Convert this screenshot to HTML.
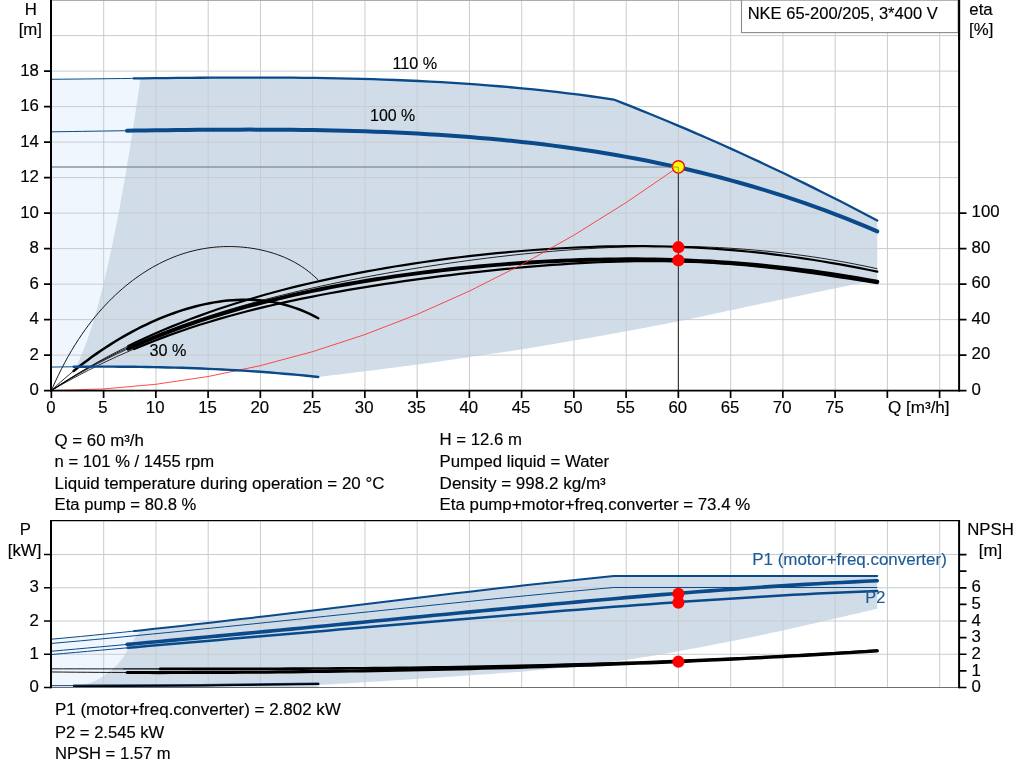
<!DOCTYPE html>
<html lang="en"><head><meta charset="utf-8"><title>NKE 65-200/205 pump curve</title>
<style>html,body{margin:0;padding:0;background:#fff;overflow:hidden}body{width:1024px;height:781px;position:relative}</style></head>
<body>
<svg width="1024" height="781" viewBox="0 0 1024 781" style="position:absolute;left:0;top:0">
<rect x="0" y="0" width="1024" height="781" fill="#ffffff"/>
<path d="M51.30,79.28 L62.78,79.18 L74.26,79.07 L85.74,78.96 L97.21,78.83 L108.69,78.70 L120.17,78.57 L131.65,78.44 L140.49,78.34 L140.49,77.96 L137.07,101.45 L133.66,124.02 L130.24,145.68 L126.83,166.42 L123.41,186.24 L120.00,205.14 L116.58,223.13 L113.16,240.20 L109.75,256.35 L106.33,271.58 L102.92,285.90 L99.50,299.29 L96.09,311.77 L92.67,323.34 L89.26,333.98 L85.84,343.71 L82.42,352.52 L79.01,360.41 L75.59,367.38 L75.59,366.78 L71.83,366.82 L64.99,366.90 L58.14,366.99 L51.30,367.09Z" fill="#eff6fe"/>
<path d="M75.59,367.38 L79.01,360.41 L82.42,352.52 L85.84,343.71 L89.26,333.98 L92.67,323.34 L96.09,311.77 L99.50,299.29 L102.92,285.90 L106.33,271.58 L109.75,256.35 L113.16,240.20 L116.58,223.13 L120.00,205.14 L123.41,186.24 L126.83,166.42 L130.24,145.68 L133.66,124.02 L137.07,101.45 L140.49,77.96 L140.49,78.34 L143.13,78.31 L154.61,78.18 L166.09,78.06 L177.56,77.95 L189.04,77.85 L200.52,77.76 L212.00,77.68 L223.48,77.62 L234.96,77.58 L246.44,77.56 L257.91,77.56 L269.39,77.58 L280.87,77.63 L292.35,77.71 L303.83,77.82 L315.31,77.96 L326.79,78.13 L338.26,78.34 L349.74,78.59 L361.22,78.88 L372.70,79.21 L384.18,79.59 L395.66,80.01 L407.14,80.48 L418.61,81.00 L430.09,81.58 L441.57,82.21 L453.05,82.89 L464.53,83.63 L476.01,84.44 L487.49,85.30 L498.96,86.23 L510.44,87.23 L521.92,88.30 L533.40,89.43 L544.88,90.64 L556.36,91.93 L567.84,93.29 L579.31,94.73 L590.79,96.25 L602.27,97.85 L613.75,99.54 L622.84,103.09 L631.92,106.68 L641.01,110.32 L650.09,114.01 L659.18,117.73 L668.27,121.50 L677.35,125.32 L686.44,129.18 L695.53,133.09 L704.61,137.03 L713.70,141.03 L722.78,145.07 L731.87,149.15 L740.96,153.27 L750.04,157.44 L759.13,161.66 L768.22,165.92 L777.30,170.22 L786.39,174.57 L795.47,178.96 L804.56,183.40 L813.65,187.88 L822.73,192.41 L831.82,196.98 L840.91,201.59 L849.99,206.25 L859.08,210.95 L868.16,215.70 L877.25,220.49 L877.25,279.50 L877.25,279.50 L872.49,280.50 L867.74,281.49 L863.00,282.49 L858.27,283.48 L853.54,284.47 L848.80,285.47 L844.05,286.46 L839.29,287.46 L834.51,288.46 L829.70,289.47 L824.87,290.48 L820.00,291.50 L815.16,292.51 L810.39,293.50 L805.66,294.48 L800.94,295.46 L796.21,296.45 L791.42,297.44 L786.56,298.45 L781.58,299.48 L776.47,300.55 L771.19,301.65 L765.71,302.80 L760.00,304.00 L754.03,305.27 L747.82,306.60 L741.41,307.98 L734.81,309.41 L728.08,310.87 L721.25,312.34 L714.35,313.83 L707.41,315.31 L700.47,316.79 L693.56,318.23 L686.73,319.64 L680.00,321.00 L673.25,322.34 L666.37,323.68 L659.39,325.02 L652.37,326.36 L645.35,327.68 L638.38,328.98 L631.49,330.26 L624.74,331.50 L618.17,332.70 L611.83,333.85 L605.76,334.96 L600.00,336.00 L594.49,336.99 L589.14,337.94 L583.96,338.85 L578.94,339.72 L574.11,340.55 L569.47,341.34 L565.02,342.09 L560.78,342.81 L556.75,343.48 L552.93,344.13 L549.35,344.73 L546.00,345.30 L543.07,345.80 L540.65,346.22 L538.66,346.57 L536.98,346.87 L535.51,347.13 L534.16,347.37 L532.80,347.61 L531.35,347.85 L529.70,348.12 L527.74,348.43 L525.38,348.80 L522.50,349.25 L519.14,349.76 L515.43,350.32 L511.41,350.93 L507.15,351.56 L502.68,352.22 L498.06,352.90 L493.34,353.60 L488.57,354.29 L483.80,354.99 L479.09,355.68 L474.47,356.35 L470.00,357.00 L465.62,357.64 L461.25,358.27 L456.88,358.91 L452.50,359.55 L448.12,360.18 L443.75,360.81 L439.38,361.44 L435.00,362.06 L430.62,362.68 L426.25,363.30 L421.88,363.90 L417.50,364.50 L413.11,365.09 L408.68,365.68 L404.24,366.26 L399.79,366.84 L395.33,367.42 L390.89,367.98 L386.47,368.55 L382.07,369.10 L377.72,369.65 L373.42,370.19 L369.17,370.72 L365.00,371.25 L360.90,371.76 L356.88,372.27 L352.91,372.76 L348.99,373.24 L345.11,373.72 L341.27,374.19 L337.44,374.65 L333.62,375.12 L329.80,375.59 L325.98,376.05 L322.13,376.52 L318.25,377.00 L318.25,376.96 L311.41,376.25 L304.56,375.56 L297.72,374.91 L290.87,374.28 L284.03,373.68 L277.18,373.11 L270.34,372.57 L263.49,372.05 L256.65,371.56 L249.80,371.10 L242.96,370.66 L236.11,370.25 L229.27,369.86 L222.42,369.50 L215.58,369.16 L208.73,368.85 L201.89,368.56 L195.04,368.29 L188.20,368.04 L181.35,367.82 L174.51,367.61 L167.66,367.43 L160.82,367.27 L153.97,367.13 L147.13,367.00 L140.28,366.90 L133.44,366.81 L126.59,366.75 L119.75,366.70 L112.90,366.67 L106.06,366.65 L99.21,366.66 L92.37,366.67 L85.52,366.71 L78.68,366.76 L75.59,366.78Z" fill="#d0dde9"/>
<path d="M51.50,639.18 L65.92,637.86 L80.33,636.49 L94.75,635.09 L109.17,633.64 L123.58,632.17 L138.00,630.65 L141.50,630.28 L141.50,629.80 L141.31,630.02 L141.13,630.23 L140.96,630.42 L140.80,630.60 L140.63,630.79 L140.46,630.98 L140.28,631.19 L140.09,631.41 L139.88,631.65 L139.65,631.93 L139.39,632.24 L139.10,632.60 L138.78,632.99 L138.43,633.40 L138.06,633.84 L137.67,634.30 L137.27,634.79 L136.84,635.30 L136.41,635.84 L135.96,636.40 L135.50,636.98 L135.04,637.60 L134.57,638.23 L134.10,638.90 L133.62,639.61 L133.11,640.37 L132.59,641.17 L132.05,642.00 L131.50,642.87 L130.95,643.74 L130.40,644.63 L129.85,645.52 L129.31,646.40 L128.79,647.26 L128.28,648.10 L127.80,648.90 L127.35,649.68 L126.92,650.44 L126.52,651.18 L126.13,651.92 L125.75,652.65 L125.38,653.38 L124.99,654.09 L124.60,654.81 L124.20,655.53 L123.76,656.25 L123.30,656.97 L122.80,657.70 L122.28,658.43 L121.75,659.15 L121.22,659.87 L120.67,660.59 L120.11,661.31 L119.52,662.02 L118.91,662.75 L118.27,663.48 L117.59,664.22 L116.87,664.96 L116.11,665.72 L115.30,666.50 L114.43,667.30 L113.49,668.14 L112.51,669.00 L111.47,669.88 L110.41,670.77 L109.31,671.66 L108.20,672.53 L107.08,673.40 L105.96,674.23 L104.85,675.03 L103.76,675.79 L102.70,676.50 L101.67,677.16 L100.65,677.79 L99.66,678.38 L98.67,678.95 L97.68,679.49 L96.68,680.01 L95.67,680.51 L94.64,680.99 L93.59,681.46 L92.50,681.91 L91.37,682.36 L90.20,682.80 L88.97,683.22 L87.70,683.62 L86.39,684.00 L85.05,684.36 L83.68,684.70 L82.29,685.03 L80.88,685.36 L79.47,685.68 L78.06,686.00 L76.66,686.32 L75.27,686.66 L73.90,687.00 L51.50,687.00Z" fill="#eff6fe"/>
<path d="M73.90,687.00 L75.27,686.66 L76.66,686.32 L78.06,686.00 L79.47,685.68 L80.88,685.36 L82.29,685.03 L83.68,684.70 L85.05,684.36 L86.39,684.00 L87.70,683.62 L88.97,683.22 L90.20,682.80 L91.37,682.36 L92.50,681.91 L93.59,681.46 L94.64,680.99 L95.67,680.51 L96.68,680.01 L97.68,679.49 L98.67,678.95 L99.66,678.38 L100.65,677.79 L101.67,677.16 L102.70,676.50 L103.76,675.79 L104.85,675.03 L105.96,674.23 L107.08,673.40 L108.20,672.53 L109.31,671.66 L110.41,670.77 L111.47,669.88 L112.51,669.00 L113.49,668.14 L114.43,667.30 L115.30,666.50 L116.11,665.72 L116.87,664.96 L117.59,664.22 L118.27,663.48 L118.91,662.75 L119.52,662.02 L120.11,661.31 L120.67,660.59 L121.22,659.87 L121.75,659.15 L122.28,658.43 L122.80,657.70 L123.30,656.97 L123.76,656.25 L124.20,655.53 L124.60,654.81 L124.99,654.09 L125.38,653.38 L125.75,652.65 L126.13,651.92 L126.52,651.18 L126.92,650.44 L127.35,649.68 L127.80,648.90 L128.28,648.10 L128.79,647.26 L129.31,646.40 L129.85,645.52 L130.40,644.63 L130.95,643.74 L131.50,642.87 L132.05,642.00 L132.59,641.17 L133.11,640.37 L133.62,639.61 L134.10,638.90 L134.57,638.23 L135.04,637.60 L135.50,636.98 L135.96,636.40 L136.41,635.84 L136.84,635.30 L137.27,634.79 L137.67,634.30 L138.06,633.84 L138.43,633.40 L138.78,632.99 L139.10,632.60 L139.39,632.24 L139.65,631.93 L139.88,631.65 L140.09,631.41 L140.28,631.19 L140.46,630.98 L140.63,630.79 L140.80,630.60 L140.96,630.42 L141.13,630.23 L141.31,630.02 L141.50,629.80 L141.50,630.28 L152.42,629.11 L166.83,627.54 L181.25,625.95 L195.67,624.33 L210.08,622.68 L224.50,621.02 L238.92,619.34 L253.33,617.64 L267.75,615.92 L282.17,614.20 L296.58,612.47 L311.00,610.72 L325.42,608.98 L339.83,607.22 L354.25,605.47 L368.67,603.72 L383.08,601.97 L397.50,600.23 L411.92,598.49 L426.33,596.76 L440.75,595.04 L455.17,593.34 L469.58,591.65 L484.00,589.98 L498.42,588.32 L512.83,586.69 L527.25,585.08 L541.67,583.50 L556.08,581.95 L570.50,580.43 L584.92,578.93 L599.33,577.48 L613.75,576.06 L877.25,576.00 L877.25,608.75 L872.50,609.85 L867.79,610.95 L863.10,612.04 L858.42,613.13 L853.74,614.22 L849.05,615.31 L844.33,616.41 L839.58,617.51 L834.79,618.62 L829.93,619.73 L825.01,620.86 L820.00,622.00 L814.95,623.15 L809.88,624.31 L804.80,625.47 L799.68,626.65 L794.51,627.83 L789.28,629.02 L783.98,630.21 L778.60,631.41 L773.12,632.61 L767.54,633.82 L761.84,635.03 L756.00,636.25 L749.92,637.49 L743.55,638.78 L736.96,640.09 L730.19,641.43 L723.34,642.76 L716.45,644.09 L709.61,645.41 L702.86,646.69 L696.29,647.92 L689.95,649.10 L683.92,650.22 L678.25,651.25 L672.99,652.20 L668.09,653.08 L663.49,653.89 L659.12,654.66 L654.92,655.38 L650.83,656.06 L646.78,656.72 L642.71,657.37 L638.56,658.01 L634.27,658.66 L629.77,659.32 L625.00,660.00 L619.96,660.70 L614.72,661.41 L609.32,662.13 L603.80,662.84 L598.19,663.55 L592.55,664.25 L586.90,664.93 L581.29,665.60 L575.75,666.24 L570.33,666.86 L565.07,667.45 L560.00,668.00 L555.28,668.50 L550.97,668.96 L546.95,669.37 L543.11,669.75 L539.35,670.11 L535.56,670.45 L531.63,670.79 L527.44,671.14 L522.90,671.51 L517.88,671.90 L512.29,672.33 L506.00,672.80 L498.91,673.32 L491.06,673.89 L482.58,674.48 L473.60,675.10 L464.27,675.74 L454.70,676.39 L445.05,677.03 L435.43,677.67 L425.98,678.30 L416.84,678.90 L408.13,679.47 L400.00,680.00 L392.36,680.49 L385.03,680.96 L377.95,681.40 L371.08,681.83 L364.39,682.24 L357.83,682.64 L351.35,683.03 L344.92,683.41 L338.48,683.80 L332.01,684.19 L325.44,684.59 L318.75,685.00 L318.40,686.90Z" fill="#d0dde9"/>
<path d="M103.7,0V390 M103.7,520.6V687 M155.95,0V390 M155.95,520.6V687 M208.2,0V390 M208.2,520.6V687 M260.45,0V390 M260.45,520.6V687 M312.7,0V390 M312.7,520.6V687 M364.95,0V390 M364.95,520.6V687 M417.2,0V390 M417.2,520.6V687 M469.45,0V390 M469.45,520.6V687 M521.7,0V390 M521.7,520.6V687 M573.95,0V390 M573.95,520.6V687 M626.2,0V390 M626.2,520.6V687 M678.45,0V390 M678.45,520.6V687 M730.7,0V390 M730.7,520.6V687 M782.95,0V390 M782.95,520.6V687 M835.2,0V390 M835.2,520.6V687 M887.45,0V390 M887.45,520.6V687 M939.7,0V390 M939.7,520.6V687 M52,355.1H958 M52,319.6H958 M52,284.1H958 M52,248.6H958 M52,213.1H958 M52,177.6H958 M52,142.1H958 M52,106.6H958 M52,71.1H958 M52,35.6H958 M52,0.1H958 M52,654.25H958 M52,621.0H958 M52,587.75H958 M52,554.5H958" stroke="#c9ccce" stroke-width="1" fill="none"/>
<path d="M52,0.25H958" stroke="#9a9a9a" stroke-width="1" fill="none"/>
<path d="M52,167.00H678.4" stroke="#8a96a2" stroke-width="1.3" fill="none"/>
<path d="M678.4,166.85V390" stroke="#3c3c3c" stroke-width="1.2" fill="none"/>
<path d="M51.35,390.50 L54.73,382.90 L58.11,375.71 L61.49,368.89 L64.86,362.42 L68.24,356.28 L71.62,350.44 L75.00,344.89 L78.38,339.60 L81.76,334.55 L85.13,329.74 L88.51,325.15 L91.89,320.76 L95.27,316.57 L98.65,312.55 L102.03,308.71 L105.41,305.03 L108.78,301.50 L112.16,298.12 L115.54,294.89 L118.92,291.78 L122.30,288.80 L125.68,285.95 L129.06,283.22 L132.43,280.61 L135.81,278.11 L139.19,275.71 L142.57,273.43 L145.95,271.25 L149.33,269.17 L152.70,267.20 L156.08,265.32 L159.46,263.54 L162.84,261.86 L166.22,260.27 L169.60,258.77 L172.98,257.37 L176.35,256.06 L179.73,254.84 L183.11,253.70 L186.49,252.66 L189.87,251.70 L193.25,250.82 L196.62,250.04 L200.00,249.33 L203.38,248.70 L206.76,248.16 L210.14,247.70 L213.52,247.31 L216.90,247.01 L220.27,246.78 L223.65,246.63 L227.03,246.55 L230.41,246.55 L233.79,246.62 L237.17,246.76 L240.54,246.99 L243.92,247.28 L247.30,247.65 L250.68,248.10 L254.06,248.63 L257.44,249.23 L260.82,249.92 L264.19,250.69 L267.57,251.55 L270.95,252.50 L274.33,253.55 L277.71,254.71 L281.09,255.97 L284.47,257.35 L287.84,258.86 L291.22,260.50 L294.60,262.28 L297.98,264.22 L301.36,266.34 L304.74,268.63 L308.11,271.13 L311.49,273.85 L314.87,276.80 L318.25,280.02" fill="none" stroke="#000" stroke-width="0.9" stroke-linecap="butt" stroke-linejoin="round" />
<path d="M51.35,390.50 L55.87,386.30 L60.40,382.23 L64.92,378.27 L69.44,374.43 L73.70,370.92" fill="none" stroke="#000" stroke-width="0.8" stroke-linecap="butt" stroke-linejoin="round" />
<path d="M73.70,370.92 L73.97,370.69 L78.49,367.07 L83.02,363.56 L87.54,360.15 L92.06,356.84 L96.59,353.63 L101.11,350.52 L105.63,347.51 L110.16,344.59 L114.68,341.77 L119.21,339.03 L123.73,336.39 L128.25,333.84 L132.78,331.38 L137.30,329.01 L141.82,326.73 L146.35,324.53 L150.87,322.43 L155.40,320.41 L159.92,318.47 L164.44,316.63 L168.97,314.87 L173.49,313.21 L178.01,311.63 L182.54,310.14 L187.06,308.75 L191.59,307.45 L196.11,306.24 L200.63,305.13 L205.16,304.11 L209.68,303.20 L214.20,302.38 L218.73,301.67 L223.25,301.07 L227.78,300.57 L232.30,300.18 L236.82,299.90 L241.35,299.74 L245.87,299.70 L250.39,299.78 L254.92,299.99 L259.44,300.32 L263.97,300.79 L268.49,301.40 L273.01,302.14 L277.54,303.03 L282.06,304.06 L286.58,305.25 L291.11,306.60 L295.63,308.10 L300.16,309.78 L304.68,311.63 L309.20,313.65 L313.73,315.85 L318.25,318.25" fill="none" stroke="#000" stroke-width="2.5" stroke-linecap="round" stroke-linejoin="round" />
<path d="M51.35,390.50 L60.63,384.42 L69.91,378.60 L79.19,373.05 L88.47,367.73 L97.75,362.65 L107.03,357.78 L116.31,353.13 L125.59,348.67 L134.87,344.40 L144.15,340.31 L153.43,336.38 L162.71,332.62 L171.99,329.01 L181.27,325.54 L190.56,322.20 L199.84,319.00 L209.12,315.91 L218.40,312.94 L227.68,310.07 L236.96,307.31 L246.24,304.65 L255.52,302.07 L264.80,299.59 L274.08,297.18 L283.36,294.85 L292.64,292.60 L301.92,290.42 L311.20,288.30 L320.48,286.25 L329.76,284.25 L339.04,282.32 L348.32,280.44 L357.60,278.61 L366.88,276.84 L376.16,275.12 L385.44,273.44 L394.72,271.82 L404.00,270.24 L413.28,268.70 L422.56,267.22 L431.84,265.77 L441.12,264.38 L450.40,263.02 L459.68,261.72 L468.97,260.46 L478.25,259.24 L487.53,258.07 L496.81,256.95 L506.09,255.88 L515.37,254.85 L524.65,253.88 L533.93,252.96 L543.21,252.09 L552.49,251.27 L561.77,250.51 L571.05,249.81 L580.33,249.16 L589.61,248.58 L598.89,248.05 L608.17,247.59 L617.45,247.20 L626.73,246.87 L636.01,246.61 L645.29,246.42 L654.57,246.30 L663.85,246.26 L673.13,246.29 L682.41,246.40 L691.69,246.58 L700.97,246.85 L710.25,247.20 L719.53,247.63 L728.81,248.15 L738.09,248.75 L747.38,249.44 L756.66,250.22 L765.94,251.09 L775.22,252.04 L784.50,253.09 L793.78,254.24 L803.06,255.47 L812.34,256.80 L821.62,258.22 L830.90,259.73 L840.18,261.34 L849.46,263.04 L858.74,264.84 L868.02,266.72 L877.30,268.70" fill="none" stroke="#000" stroke-width="0.85" stroke-linecap="butt" stroke-linejoin="round" />
<path d="M51.35,390.50 L60.63,384.37 L69.91,378.46 L79.19,372.77 L88.47,367.29 L97.75,362.02 L107.03,356.95 L116.31,352.06 L125.59,347.36 L128.30,346.04" fill="none" stroke="#000" stroke-width="0.8" stroke-linecap="butt" stroke-linejoin="round" />
<path d="M128.30,346.04 L134.87,342.83 L144.15,338.48 L153.43,334.29 L162.71,330.26 L171.99,326.38 L181.27,322.65 L190.56,319.06 L199.84,315.61 L209.12,312.28 L218.40,309.08 L227.68,306.00 L236.96,303.04 L246.24,300.18 L255.52,297.44 L264.80,294.79 L274.08,292.24 L283.36,289.79 L292.64,287.43 L301.92,285.15 L311.20,282.96 L320.48,280.85 L329.76,278.81 L339.04,276.85 L348.32,274.97 L357.60,273.15 L366.88,271.40 L376.16,269.71 L385.44,268.09 L394.72,266.54 L404.00,265.04 L413.28,263.60 L422.56,262.22 L431.84,260.90 L441.12,259.63 L450.40,258.42 L459.68,257.27 L468.97,256.17 L478.25,255.13 L487.53,254.14 L496.81,253.20 L506.09,252.32 L515.37,251.50 L524.65,250.73 L533.93,250.02 L543.21,249.37 L552.49,248.77 L561.77,248.23 L571.05,247.75 L580.33,247.34 L589.61,246.98 L598.89,246.69 L608.17,246.46 L617.45,246.30 L626.73,246.20 L636.01,246.17 L645.29,246.21 L654.57,246.31 L663.85,246.49 L673.13,246.75 L682.41,247.07 L691.69,247.47 L700.97,247.94 L710.25,248.50 L719.53,249.12 L728.81,249.83 L738.09,250.62 L747.38,251.48 L756.66,252.42 L765.94,253.44 L775.22,254.55 L784.50,255.73 L793.78,256.99 L803.06,258.32 L812.34,259.74 L821.62,261.23 L830.90,262.80 L840.18,264.44 L849.46,266.15 L858.74,267.93 L868.02,269.78 L877.30,271.69" fill="none" stroke="#000" stroke-width="2.2" stroke-linecap="round" stroke-linejoin="round" />
<path d="M51.35,390.50 L60.63,385.18 L69.91,380.03 L79.19,375.06 L88.47,370.25 L97.75,365.61 L107.03,361.14 L116.31,356.83 L125.59,352.69 L134.00,349.07" fill="none" stroke="#000" stroke-width="0.8" stroke-linecap="butt" stroke-linejoin="round" />
<path d="M134.00,349.07 L134.87,348.69 L144.15,344.86 L153.43,341.17 L162.71,337.63 L171.99,334.22 L181.27,330.96 L190.56,327.82 L199.84,324.81 L209.12,321.93 L218.40,319.16 L227.68,316.50 L236.96,313.95 L246.24,311.50 L255.52,309.14 L264.80,306.88 L274.08,304.71 L283.36,302.62 L292.64,300.61 L301.92,298.67 L311.20,296.80 L320.48,295.00 L329.76,293.26 L339.04,291.57 L348.32,289.95 L357.60,288.38 L366.88,286.85 L376.16,285.38 L385.44,283.94 L394.72,282.56 L404.00,281.21 L413.28,279.90 L422.56,278.64 L431.84,277.41 L441.12,276.21 L450.40,275.06 L459.68,273.94 L468.97,272.86 L478.25,271.81 L487.53,270.81 L496.81,269.84 L506.09,268.92 L515.37,268.03 L524.65,267.19 L533.93,266.39 L543.21,265.64 L552.49,264.94 L561.77,264.29 L571.05,263.69 L580.33,263.15 L589.61,262.67 L598.89,262.24 L608.17,261.88 L617.45,261.59 L626.73,261.36 L636.01,261.21 L645.29,261.12 L654.57,261.12 L663.85,261.18 L673.13,261.33 L682.41,261.56 L691.69,261.87 L700.97,262.26 L710.25,262.74 L719.53,263.29 L728.81,263.94 L738.09,264.66 L747.38,265.47 L756.66,266.36 L765.94,267.32 L775.22,268.36 L784.50,269.47 L793.78,270.65 L803.06,271.89 L812.34,273.19 L821.62,274.53 L830.90,275.92 L840.18,277.34 L849.46,278.77 L858.74,280.22 L868.02,281.67 L877.30,283.10" fill="none" stroke="#000" stroke-width="2.2" stroke-linecap="round" stroke-linejoin="round" />
<path d="M51.35,390.50 L60.63,384.65 L69.91,379.03 L79.19,373.66 L88.47,368.50 L97.75,363.56 L107.03,358.82 L116.31,354.27 L125.59,349.91 L128.30,348.69" fill="none" stroke="#000" stroke-width="0.8" stroke-linecap="butt" stroke-linejoin="round" />
<path d="M128.30,348.69 L134.87,345.72 L144.15,341.71 L153.43,337.85 L162.71,334.15 L171.99,330.60 L181.27,327.19 L190.56,323.91 L199.84,320.76 L209.12,317.73 L218.40,314.82 L227.68,312.02 L236.96,309.33 L246.24,306.74 L255.52,304.25 L264.80,301.85 L274.08,299.54 L283.36,297.33 L292.64,295.19 L301.92,293.13 L311.20,291.15 L320.48,289.25 L329.76,287.42 L339.04,285.66 L348.32,283.96 L357.60,282.33 L366.88,280.77 L376.16,279.26 L385.44,277.82 L394.72,276.43 L404.00,275.11 L413.28,273.84 L422.56,272.62 L431.84,271.46 L441.12,270.35 L450.40,269.30 L459.68,268.30 L468.97,267.36 L478.25,266.46 L487.53,265.62 L496.81,264.83 L506.09,264.09 L515.37,263.41 L524.65,262.77 L533.93,262.19 L543.21,261.66 L552.49,261.18 L561.77,260.76 L571.05,260.39 L580.33,260.07 L589.61,259.81 L598.89,259.60 L608.17,259.44 L617.45,259.35 L626.73,259.30 L636.01,259.32 L645.29,259.39 L654.57,259.52 L663.85,259.72 L673.13,259.96 L682.41,260.27 L691.69,260.65 L700.97,261.08 L710.25,261.57 L719.53,262.13 L728.81,262.75 L738.09,263.43 L747.38,264.18 L756.66,265.00 L765.94,265.88 L775.22,266.83 L784.50,267.84 L793.78,268.92 L803.06,270.07 L812.34,271.29 L821.62,272.58 L830.90,273.94 L840.18,275.37 L849.46,276.87 L858.74,278.43 L868.02,280.08 L877.30,281.79" fill="none" stroke="#000" stroke-width="3.9" stroke-linecap="round" stroke-linejoin="round" />
<path d="M51.35,390.50 L103.60,388.95 L155.85,384.29 L208.10,376.52 L260.35,365.65 L312.60,351.67 L364.85,334.59 L417.10,314.40 L469.35,291.10 L521.60,264.70 L573.85,235.19 L626.10,202.57 L678.35,166.85" fill="none" stroke="#ff2d2d" stroke-width="0.85" stroke-linecap="butt" stroke-linejoin="round" />
<path d="M51.30,367.09 L58.14,366.99 L64.99,366.90 L71.83,366.82 L73.75,366.80" fill="none" stroke="#0a4a8a" stroke-width="1.0" stroke-linecap="butt" stroke-linejoin="round" />
<path d="M73.75,366.80 L78.68,366.76 L85.52,366.71 L92.37,366.67 L99.21,366.66 L106.06,366.65 L112.90,366.67 L119.75,366.70 L126.59,366.75 L133.44,366.81 L140.28,366.90 L147.13,367.00 L153.97,367.13 L160.82,367.27 L167.66,367.43 L174.51,367.61 L181.35,367.82 L188.20,368.04 L195.04,368.29 L201.89,368.56 L208.73,368.85 L215.58,369.16 L222.42,369.50 L229.27,369.86 L236.11,370.25 L242.96,370.66 L249.80,371.10 L256.65,371.56 L263.49,372.05 L270.34,372.57 L277.18,373.11 L284.03,373.68 L290.87,374.28 L297.72,374.91 L304.56,375.56 L311.41,376.25 L318.25,376.96" fill="none" stroke="#0a4a8a" stroke-width="2.4" stroke-linecap="round" stroke-linejoin="round" />
<path d="M51.30,79.28 L62.78,79.18 L74.26,79.07 L85.74,78.96 L97.21,78.83 L108.69,78.70 L120.17,78.57 L131.65,78.44 L133.75,78.42" fill="none" stroke="#0a4a8a" stroke-width="1.0" stroke-linecap="butt" stroke-linejoin="round" />
<path d="M133.75,78.42 L143.13,78.31 L154.61,78.18 L166.09,78.06 L177.56,77.95 L189.04,77.85 L200.52,77.76 L212.00,77.68 L223.48,77.62 L234.96,77.58 L246.44,77.56 L257.91,77.56 L269.39,77.58 L280.87,77.63 L292.35,77.71 L303.83,77.82 L315.31,77.96 L326.79,78.13 L338.26,78.34 L349.74,78.59 L361.22,78.88 L372.70,79.21 L384.18,79.59 L395.66,80.01 L407.14,80.48 L418.61,81.00 L430.09,81.58 L441.57,82.21 L453.05,82.89 L464.53,83.63 L476.01,84.44 L487.49,85.30 L498.96,86.23 L510.44,87.23 L521.92,88.30 L533.40,89.43 L544.88,90.64 L556.36,91.93 L567.84,93.29 L579.31,94.73 L590.79,96.25 L602.27,97.85 L613.75,99.54 L622.84,103.09 L631.92,106.68 L641.01,110.32 L650.09,114.01 L659.18,117.73 L668.27,121.50 L677.35,125.32 L686.44,129.18 L695.53,133.09 L704.61,137.03 L713.70,141.03 L722.78,145.07 L731.87,149.15 L740.96,153.27 L750.04,157.44 L759.13,161.66 L768.22,165.92 L777.30,170.22 L786.39,174.57 L795.47,178.96 L804.56,183.40 L813.65,187.88 L822.73,192.41 L831.82,196.98 L840.91,201.59 L849.99,206.25 L859.08,210.95 L868.16,215.70 L877.25,220.49" fill="none" stroke="#0a4a8a" stroke-width="2.3" stroke-linecap="round" stroke-linejoin="round" />
<path d="M51.30,131.82 L61.76,131.67 L72.21,131.52 L82.67,131.36 L93.12,131.20 L103.58,131.04 L114.03,130.88 L124.49,130.73 L127.00,130.69" fill="none" stroke="#0a4a8a" stroke-width="1.0" stroke-linecap="butt" stroke-linejoin="round" />
<path d="M127.00,130.69 L134.94,130.58 L145.40,130.43 L155.85,130.30 L166.31,130.17 L176.76,130.05 L187.22,129.94 L197.67,129.85 L208.13,129.77 L218.58,129.70 L229.04,129.66 L239.49,129.63 L249.95,129.62 L260.40,129.64 L270.86,129.68 L281.31,129.74 L291.77,129.83 L302.22,129.95 L312.68,130.10 L323.13,130.28 L333.59,130.49 L344.04,130.74 L354.50,131.03 L364.95,131.35 L375.41,131.71 L385.86,132.11 L396.32,132.56 L406.77,133.05 L417.23,133.59 L427.68,134.18 L438.14,134.81 L448.59,135.50 L459.05,136.24 L469.50,137.04 L479.96,137.89 L490.41,138.81 L500.87,139.78 L511.32,140.81 L521.78,141.91 L532.23,143.08 L542.69,144.31 L553.14,145.62 L563.60,146.99 L574.05,148.44 L584.51,149.97 L594.96,151.57 L605.42,153.25 L615.87,155.01 L626.33,156.86 L636.78,158.79 L647.24,160.81 L657.69,162.92 L668.15,165.11 L678.60,167.41 L689.06,169.79 L699.51,172.28 L709.97,174.86 L720.42,177.54 L730.88,180.33 L741.33,183.22 L751.79,186.22 L762.24,189.33 L772.70,192.56 L783.15,195.89 L793.61,199.34 L804.06,202.91 L814.52,206.60 L824.97,210.41 L835.43,214.35 L845.88,218.42 L856.34,222.61 L866.79,226.93 L877.25,231.39" fill="none" stroke="#0a4a8a" stroke-width="4.0" stroke-linecap="round" stroke-linejoin="round" />
<path d="M51.50,639.18 L65.92,637.86 L80.33,636.49 L94.75,635.09 L109.17,633.64 L123.58,632.17 L134.10,631.06" fill="none" stroke="#0a4a8a" stroke-width="1.0" stroke-linecap="butt" stroke-linejoin="round" />
<path d="M134.10,631.06 L138.00,630.65 L152.42,629.11 L166.83,627.54 L181.25,625.95 L195.67,624.33 L210.08,622.68 L224.50,621.02 L238.92,619.34 L253.33,617.64 L267.75,615.92 L282.17,614.20 L296.58,612.47 L311.00,610.72 L325.42,608.98 L339.83,607.22 L354.25,605.47 L368.67,603.72 L383.08,601.97 L397.50,600.23 L411.92,598.49 L426.33,596.76 L440.75,595.04 L455.17,593.34 L469.58,591.65 L484.00,589.98 L498.42,588.32 L512.83,586.69 L527.25,585.08 L541.67,583.50 L556.08,581.95 L570.50,580.43 L584.92,578.93 L599.33,577.48 L613.75,576.06 L877.25,576.00" fill="none" stroke="#0a4a8a" stroke-width="2.0" stroke-linecap="round" stroke-linejoin="round" />
<path d="M51.50,643.45 L65.92,642.17 L80.33,640.86 L94.75,639.53 L109.17,638.18 L123.58,636.82 L138.00,635.43 L152.42,634.03 L166.83,632.61 L181.25,631.18 L195.67,629.74 L210.08,628.28 L224.50,626.81 L238.92,625.33 L253.33,623.85 L267.75,622.36 L282.17,620.86 L296.58,619.36 L311.00,617.85 L325.42,616.34 L339.83,614.83 L354.25,613.32 L368.67,611.81 L383.08,610.31 L397.50,608.80 L411.92,607.30 L426.33,605.81 L440.75,604.32 L455.17,602.85 L469.58,601.38 L484.00,599.92 L498.42,598.48 L512.83,597.04 L527.25,595.62 L541.67,594.22 L556.08,592.83 L570.50,591.46 L584.92,590.11 L599.33,588.78 L613.75,587.47 L877.25,587.50" fill="none" stroke="#0a4a8a" stroke-width="1.0" stroke-linecap="butt" stroke-linejoin="round" />
<path d="M51.50,654.57 L63.47,653.49 L75.43,652.43 L87.40,651.37 L99.37,650.31 L111.34,649.26 L123.30,648.21 L127.80,647.81" fill="none" stroke="#0a4a8a" stroke-width="1.0" stroke-linecap="butt" stroke-linejoin="round" />
<path d="M127.80,647.81 L135.27,647.16 L147.24,646.12 L159.21,645.08 L171.17,644.04 L183.14,643.00 L195.11,641.97 L207.08,640.93 L219.04,639.90 L231.01,638.87 L242.98,637.84 L254.95,636.81 L266.91,635.78 L278.88,634.75 L290.85,633.72 L302.82,632.70 L314.78,631.67 L326.75,630.64 L338.72,629.62 L350.68,628.60 L362.65,627.57 L374.62,626.55 L386.59,625.53 L398.55,624.51 L410.52,623.49 L422.49,622.48 L434.46,621.47 L446.42,620.46 L458.39,619.45 L470.36,618.45 L482.33,617.45 L494.29,616.45 L506.26,615.46 L518.23,614.48 L530.20,613.50 L542.16,612.53 L554.13,611.56 L566.10,610.60 L578.07,609.65 L590.03,608.71 L602.00,607.78 L613.97,606.86 L625.93,605.95 L637.90,605.05 L649.87,604.16 L661.84,603.29 L673.80,602.43 L685.77,601.59 L697.74,600.76 L709.71,599.95 L721.67,599.16 L733.64,598.38 L745.61,597.63 L757.58,596.90 L769.54,596.19 L781.51,595.50 L793.48,594.84 L805.45,594.21 L817.41,593.60 L829.38,593.01 L841.35,592.46 L853.32,591.94 L865.28,591.45 L877.25,590.99" fill="none" stroke="#0a4a8a" stroke-width="2.5" stroke-linecap="round" stroke-linejoin="round" />
<path d="M51.50,651.25 L63.47,650.18 L75.43,649.10 L87.40,648.02 L99.37,646.94 L111.34,645.85 L123.30,644.77 L127.20,644.41" fill="none" stroke="#0a4a8a" stroke-width="1.0" stroke-linecap="butt" stroke-linejoin="round" />
<path d="M127.20,644.41 L135.27,643.67 L147.24,642.57 L159.21,641.47 L171.17,640.37 L183.14,639.26 L195.11,638.15 L207.08,637.03 L219.04,635.91 L231.01,634.79 L242.98,633.66 L254.95,632.53 L266.91,631.39 L278.88,630.25 L290.85,629.11 L302.82,627.97 L314.78,626.82 L326.75,625.68 L338.72,624.53 L350.68,623.38 L362.65,622.22 L374.62,621.07 L386.59,619.92 L398.55,618.77 L410.52,617.62 L422.49,616.46 L434.46,615.32 L446.42,614.17 L458.39,613.02 L470.36,611.88 L482.33,610.75 L494.29,609.61 L506.26,608.49 L518.23,607.37 L530.20,606.25 L542.16,605.14 L554.13,604.04 L566.10,602.95 L578.07,601.87 L590.03,600.80 L602.00,599.74 L613.97,598.70 L625.93,597.66 L637.90,596.64 L649.87,595.64 L661.84,594.65 L673.80,593.67 L685.77,592.72 L697.74,591.78 L709.71,590.87 L721.67,589.97 L733.64,589.10 L745.61,588.25 L757.58,587.43 L769.54,586.63 L781.51,585.86 L793.48,585.11 L805.45,584.40 L817.41,583.71 L829.38,583.06 L841.35,582.44 L853.32,581.86 L865.28,581.31 L877.25,580.80" fill="none" stroke="#0a4a8a" stroke-width="3.6" stroke-linecap="round" stroke-linejoin="round" />
<path d="M51.50,668.83 L63.47,668.83 L75.43,668.84 L87.40,668.85 L99.37,668.86 L111.34,668.87 L122.80,668.87" fill="none" stroke="#000" stroke-width="0.9" stroke-linecap="butt" stroke-linejoin="round" />
<path d="M122.80,668.87 L123.30,668.87 L135.27,668.88 L147.24,668.89 L159.21,668.89 L160.00,668.89" fill="none" stroke="#000" stroke-width="1.4" stroke-linecap="butt" stroke-linejoin="round" />
<path d="M160.00,668.89 L171.17,668.89 L183.14,668.89 L195.11,668.89 L207.08,668.88 L219.04,668.86 L231.01,668.84 L242.98,668.82 L254.95,668.79 L266.91,668.75 L278.88,668.71 L290.85,668.66 L302.82,668.60 L314.78,668.54 L326.75,668.46 L338.72,668.38 L350.68,668.29 L362.65,668.19 L374.62,668.08 L386.59,667.96 L398.55,667.82 L410.52,667.68 L422.49,667.53 L434.46,667.36 L446.42,667.18 L458.39,666.99 L470.36,666.79 L482.33,666.57 L494.29,666.34 L506.26,666.10 L518.23,665.84 L530.20,665.57 L542.16,665.28 L554.13,664.98 L566.10,664.67 L578.07,664.34 L590.03,663.99 L602.00,663.63 L613.97,663.25 L625.93,662.86 L637.90,662.45 L649.87,662.02 L661.84,661.57 L673.80,661.11 L685.77,660.63 L697.74,660.14 L709.71,659.62 L721.67,659.09 L733.64,658.54 L745.61,657.97 L757.58,657.38 L769.54,656.78 L781.51,656.15 L793.48,655.51 L805.45,654.85 L817.41,654.17 L829.38,653.47 L841.35,652.75 L853.32,652.01 L865.28,651.25 L877.25,650.47" fill="none" stroke="#000" stroke-width="2.6" stroke-linecap="round" stroke-linejoin="round" />
<path d="M51.50,671.96 L63.47,672.08 L75.43,672.19 L87.40,672.28 L99.37,672.36 L111.34,672.42 L123.30,672.47 L127.20,672.48" fill="none" stroke="#000" stroke-width="0.9" stroke-linecap="butt" stroke-linejoin="round" />
<path d="M127.20,672.48 L135.27,672.50 L147.24,672.52 L159.21,672.53 L171.17,672.52 L183.14,672.50 L195.11,672.47 L207.08,672.43 L219.04,672.37 L231.01,672.30 L242.98,672.22 L254.95,672.13 L266.91,672.03 L278.88,671.91 L290.85,671.79 L302.82,671.65 L314.78,671.50 L326.75,671.34 L338.72,671.17 L350.68,670.99 L362.65,670.80 L374.62,670.59 L386.59,670.38 L398.55,670.15 L410.52,669.92 L422.49,669.67 L434.46,669.41 L446.42,669.14 L458.39,668.86 L470.36,668.57 L482.33,668.27 L494.29,667.96 L506.26,667.63 L518.23,667.30 L530.20,666.95 L542.16,666.59 L554.13,666.22 L566.10,665.84 L578.07,665.44 L590.03,665.03 L602.00,664.61 L613.97,664.18 L625.93,663.73 L637.90,663.27 L649.87,662.80 L661.84,662.31 L673.80,661.81 L685.77,661.30 L697.74,660.77 L709.71,660.23 L721.67,659.67 L733.64,659.09 L745.61,658.50 L757.58,657.89 L769.54,657.27 L781.51,656.63 L793.48,655.97 L805.45,655.29 L817.41,654.60 L829.38,653.89 L841.35,653.15 L853.32,652.40 L865.28,651.63 L877.25,650.84" fill="none" stroke="#000" stroke-width="3.2" stroke-linecap="round" stroke-linejoin="round" />
<path d="M51.50,685.70 L73.90,685.60" fill="none" stroke="#0a4a8a" stroke-width="1.0" stroke-linecap="butt" stroke-linejoin="round" />
<path d="M73.90,685.60 L73.90,685.60 L200.00,685.20 L318.40,683.60" fill="none" stroke="#0a4a8a" stroke-width="2.2" stroke-linecap="round" stroke-linejoin="round" />
<path d="M73.90,686.30 L200.00,685.60 L318.40,684.20" fill="none" stroke="#000" stroke-width="1.8" stroke-linecap="round" stroke-linejoin="round" />
<path d="M50,390.6H960" stroke="#000" stroke-width="1.7" fill="none"/>
<path d="M44,390.70H51 M44,355.20H51 M44,319.70H51 M44,284.20H51 M44,248.70H51 M44,213.20H51 M44,177.70H51 M44,142.20H51 M44,106.70H51 M44,71.20H51 M959.1,390.70H966.5 M959.1,355.20H966.5 M959.1,319.70H966.5 M959.1,284.20H966.5 M959.1,248.70H966.5 M959.1,213.20H966.5 M51.35,390.5V397.9 M103.60,390.5V397.9 M155.85,390.5V397.9 M208.10,390.5V397.9 M260.35,390.5V397.9 M312.60,390.5V397.9 M364.85,390.5V397.9 M417.10,390.5V397.9 M469.35,390.5V397.9 M521.60,390.5V397.9 M573.85,390.5V397.9 M626.10,390.5V397.9 M678.35,390.5V397.9 M730.60,390.5V397.9 M782.85,390.5V397.9 M835.10,390.5V397.9 M887.35,390.5V397.9 M939.60,390.5V397.9 M44,687.50H51 M44,654.25H51 M44,621.00H51 M44,587.75H51 M44,554.50H51 M959.1,687.50H966.5 M959.1,670.88H966.5 M959.1,654.26H966.5 M959.1,637.64H966.5 M959.1,621.02H966.5 M959.1,604.40H966.5 M959.1,587.78H966.5 M959.1,571.16H966.5 M959.1,554.54H966.5" stroke="#000" stroke-width="1.7" fill="none"/>
<path d="M51,0V391.4 M959.1,0V391.4 M51,520.1V688.3 M959.1,520.1V688.3" stroke="#000" stroke-width="2" fill="none"/>
<path d="M50,520.6H960" stroke="#000" stroke-width="1.2" fill="none"/>
<path d="M52,687.5H958" stroke="#6e6e6e" stroke-width="1.1" fill="none"/>
<rect x="741.5" y="-2" width="216.60000000000002" height="34.6" fill="#fff" stroke="#8a8a8a" stroke-width="1.1"/>
<path d="M959.1,0V40" stroke="#000" stroke-width="2" fill="none"/>
<path d="M741,0.25H958" stroke="#9a9a9a" stroke-width="1" fill="none"/>
<circle cx="678.4" cy="166.85" r="6.1" fill="#ffff00" stroke="#e8121a" stroke-width="1.5"/>
<path d="M671,167.00H678.4V173" stroke="#a89a30" stroke-width="1" fill="none"/>
<circle cx="678.4" cy="247.2" r="6.1" fill="#ff0000"/>
<circle cx="678.4" cy="260.4" r="6.1" fill="#ff0000"/>
<circle cx="678.4" cy="593.8" r="6.1" fill="#ff0000"/>
<circle cx="678.4" cy="602.6" r="6.1" fill="#ff0000"/>
<circle cx="678.4" cy="661.7" r="6.1" fill="#ff0000"/>
<g font-family="'Liberation Sans', Arial, sans-serif">
<text transform="translate(30.9,14.7) scale(1.05,1)" font-size="16.0" text-anchor="middle" fill="#000" stroke="#000" stroke-width="0.15">H</text>
<text transform="translate(30.3,34.8) scale(1.05,1)" font-size="16.0" text-anchor="middle" fill="#000" stroke="#000" stroke-width="0.15">[m]</text>
<text transform="translate(38.8,395.2) scale(1.05,1)" font-size="16.0" text-anchor="end" fill="#000" stroke="#000" stroke-width="0.15">0</text>
<text transform="translate(38.8,359.7) scale(1.05,1)" font-size="16.0" text-anchor="end" fill="#000" stroke="#000" stroke-width="0.15">2</text>
<text transform="translate(38.8,324.2) scale(1.05,1)" font-size="16.0" text-anchor="end" fill="#000" stroke="#000" stroke-width="0.15">4</text>
<text transform="translate(38.8,288.7) scale(1.05,1)" font-size="16.0" text-anchor="end" fill="#000" stroke="#000" stroke-width="0.15">6</text>
<text transform="translate(38.8,253.2) scale(1.05,1)" font-size="16.0" text-anchor="end" fill="#000" stroke="#000" stroke-width="0.15">8</text>
<text transform="translate(38.8,217.7) scale(1.05,1)" font-size="16.0" text-anchor="end" fill="#000" stroke="#000" stroke-width="0.15">10</text>
<text transform="translate(38.8,182.2) scale(1.05,1)" font-size="16.0" text-anchor="end" fill="#000" stroke="#000" stroke-width="0.15">12</text>
<text transform="translate(38.8,146.7) scale(1.05,1)" font-size="16.0" text-anchor="end" fill="#000" stroke="#000" stroke-width="0.15">14</text>
<text transform="translate(38.8,111.2) scale(1.05,1)" font-size="16.0" text-anchor="end" fill="#000" stroke="#000" stroke-width="0.15">16</text>
<text transform="translate(38.8,75.7) scale(1.05,1)" font-size="16.0" text-anchor="end" fill="#000" stroke="#000" stroke-width="0.15">18</text>
<text transform="translate(50.8,412.7) scale(1.05,1)" font-size="16.0" text-anchor="middle" fill="#000" stroke="#000" stroke-width="0.15">0</text>
<text transform="translate(103.0,412.7) scale(1.05,1)" font-size="16.0" text-anchor="middle" fill="#000" stroke="#000" stroke-width="0.15">5</text>
<text transform="translate(155.2,412.7) scale(1.05,1)" font-size="16.0" text-anchor="middle" fill="#000" stroke="#000" stroke-width="0.15">10</text>
<text transform="translate(207.5,412.7) scale(1.05,1)" font-size="16.0" text-anchor="middle" fill="#000" stroke="#000" stroke-width="0.15">15</text>
<text transform="translate(259.8,412.7) scale(1.05,1)" font-size="16.0" text-anchor="middle" fill="#000" stroke="#000" stroke-width="0.15">20</text>
<text transform="translate(312.0,412.7) scale(1.05,1)" font-size="16.0" text-anchor="middle" fill="#000" stroke="#000" stroke-width="0.15">25</text>
<text transform="translate(364.2,412.7) scale(1.05,1)" font-size="16.0" text-anchor="middle" fill="#000" stroke="#000" stroke-width="0.15">30</text>
<text transform="translate(416.5,412.7) scale(1.05,1)" font-size="16.0" text-anchor="middle" fill="#000" stroke="#000" stroke-width="0.15">35</text>
<text transform="translate(468.8,412.7) scale(1.05,1)" font-size="16.0" text-anchor="middle" fill="#000" stroke="#000" stroke-width="0.15">40</text>
<text transform="translate(521.0,412.7) scale(1.05,1)" font-size="16.0" text-anchor="middle" fill="#000" stroke="#000" stroke-width="0.15">45</text>
<text transform="translate(573.2,412.7) scale(1.05,1)" font-size="16.0" text-anchor="middle" fill="#000" stroke="#000" stroke-width="0.15">50</text>
<text transform="translate(625.5,412.7) scale(1.05,1)" font-size="16.0" text-anchor="middle" fill="#000" stroke="#000" stroke-width="0.15">55</text>
<text transform="translate(677.8,412.7) scale(1.05,1)" font-size="16.0" text-anchor="middle" fill="#000" stroke="#000" stroke-width="0.15">60</text>
<text transform="translate(730.0,412.7) scale(1.05,1)" font-size="16.0" text-anchor="middle" fill="#000" stroke="#000" stroke-width="0.15">65</text>
<text transform="translate(782.2,412.7) scale(1.05,1)" font-size="16.0" text-anchor="middle" fill="#000" stroke="#000" stroke-width="0.15">70</text>
<text transform="translate(834.5,412.7) scale(1.05,1)" font-size="16.0" text-anchor="middle" fill="#000" stroke="#000" stroke-width="0.15">75</text>
<rect x="884" y="398.5" width="72" height="21" fill="#fff"/>
<text x="888.0" y="413.0" font-size="16.0" text-anchor="start" fill="#000" stroke="#000" stroke-width="0.15" textLength="61.6" lengthAdjust="spacingAndGlyphs">Q [m³/h]</text>
<text transform="translate(971.6,394.6) scale(1.05,1)" font-size="16.0" text-anchor="start" fill="#000" stroke="#000" stroke-width="0.15">0</text>
<text transform="translate(971.6,359.1) scale(1.05,1)" font-size="16.0" text-anchor="start" fill="#000" stroke="#000" stroke-width="0.15">20</text>
<text transform="translate(971.6,323.6) scale(1.05,1)" font-size="16.0" text-anchor="start" fill="#000" stroke="#000" stroke-width="0.15">40</text>
<text transform="translate(971.6,288.1) scale(1.05,1)" font-size="16.0" text-anchor="start" fill="#000" stroke="#000" stroke-width="0.15">60</text>
<text transform="translate(971.6,252.6) scale(1.05,1)" font-size="16.0" text-anchor="start" fill="#000" stroke="#000" stroke-width="0.15">80</text>
<text transform="translate(971.6,217.1) scale(1.05,1)" font-size="16.0" text-anchor="start" fill="#000" stroke="#000" stroke-width="0.15">100</text>
<text transform="translate(981.0,14.8) scale(1.05,1)" font-size="16.0" text-anchor="middle" fill="#000" stroke="#000" stroke-width="0.15">eta</text>
<text transform="translate(981.2,35.0) scale(1.05,1)" font-size="16.0" text-anchor="middle" fill="#000" stroke="#000" stroke-width="0.15">[%]</text>
<text x="747.7" y="18.8" font-size="16.0" text-anchor="start" fill="#000" stroke="#000" stroke-width="0.15" textLength="190.0" lengthAdjust="spacingAndGlyphs">NKE 65-200/205, 3*400 V</text>
<text x="392.5" y="68.6" font-size="16.0" text-anchor="start" fill="#000" stroke="#000" stroke-width="0.15" textLength="44.8" lengthAdjust="spacingAndGlyphs">110 %</text>
<text x="370.1" y="120.5" font-size="16.0" text-anchor="start" fill="#000" stroke="#000" stroke-width="0.15" textLength="45.2" lengthAdjust="spacingAndGlyphs">100 %</text>
<text x="149.4" y="355.5" font-size="16.0" text-anchor="start" fill="#000" stroke="#000" stroke-width="0.15" textLength="36.9" lengthAdjust="spacingAndGlyphs">30 %</text>
<text x="54.6" y="445.8" font-size="16.0" text-anchor="start" fill="#000" stroke="#000" stroke-width="0.15" textLength="89.2" lengthAdjust="spacingAndGlyphs">Q = 60 m³/h</text>
<text x="54.6" y="466.7" font-size="16.0" text-anchor="start" fill="#000" stroke="#000" stroke-width="0.15" textLength="159.4" lengthAdjust="spacingAndGlyphs">n = 101 % / 1455 rpm</text>
<text x="54.6" y="488.5" font-size="16.0" text-anchor="start" fill="#000" stroke="#000" stroke-width="0.15" textLength="329.8" lengthAdjust="spacingAndGlyphs">Liquid temperature during operation = 20 °C</text>
<text x="54.6" y="509.8" font-size="16.0" text-anchor="start" fill="#000" stroke="#000" stroke-width="0.15" textLength="141.8" lengthAdjust="spacingAndGlyphs">Eta pump = 80.8 %</text>
<text x="439.6" y="445.4" font-size="16.0" text-anchor="start" fill="#000" stroke="#000" stroke-width="0.15" textLength="82.3" lengthAdjust="spacingAndGlyphs">H = 12.6 m</text>
<text x="439.6" y="466.8" font-size="16.0" text-anchor="start" fill="#000" stroke="#000" stroke-width="0.15" textLength="169.5" lengthAdjust="spacingAndGlyphs">Pumped liquid = Water</text>
<text x="439.6" y="488.5" font-size="16.0" text-anchor="start" fill="#000" stroke="#000" stroke-width="0.15" textLength="166.2" lengthAdjust="spacingAndGlyphs">Density = 998.2 kg/m³</text>
<text x="439.6" y="510.2" font-size="16.0" text-anchor="start" fill="#000" stroke="#000" stroke-width="0.15" textLength="310.6" lengthAdjust="spacingAndGlyphs">Eta pump+motor+freq.converter = 73.4 %</text>
<text x="54.9" y="715.4" font-size="16.0" text-anchor="start" fill="#000" stroke="#000" stroke-width="0.15" textLength="286.0" lengthAdjust="spacingAndGlyphs">P1 (motor+freq.converter) = 2.802 kW</text>
<text x="54.9" y="737.6" font-size="16.0" text-anchor="start" fill="#000" stroke="#000" stroke-width="0.15" textLength="109.4" lengthAdjust="spacingAndGlyphs">P2 = 2.545 kW</text>
<text x="54.9" y="758.5" font-size="16.0" text-anchor="start" fill="#000" stroke="#000" stroke-width="0.15" textLength="115.8" lengthAdjust="spacingAndGlyphs">NPSH = 1.57 m</text>
<text transform="translate(25.3,535.2) scale(1.05,1)" font-size="16.0" text-anchor="middle" fill="#000" stroke="#000" stroke-width="0.15">P</text>
<text transform="translate(24.6,555.8) scale(1.05,1)" font-size="16.0" text-anchor="middle" fill="#000" stroke="#000" stroke-width="0.15">[kW]</text>
<text transform="translate(38.8,692.1) scale(1.05,1)" font-size="16.0" text-anchor="end" fill="#000" stroke="#000" stroke-width="0.15">0</text>
<text transform="translate(38.8,658.9) scale(1.05,1)" font-size="16.0" text-anchor="end" fill="#000" stroke="#000" stroke-width="0.15">1</text>
<text transform="translate(38.8,625.6) scale(1.05,1)" font-size="16.0" text-anchor="end" fill="#000" stroke="#000" stroke-width="0.15">2</text>
<text transform="translate(38.8,592.4) scale(1.05,1)" font-size="16.0" text-anchor="end" fill="#000" stroke="#000" stroke-width="0.15">3</text>
<text transform="translate(990.5,535.2) scale(1.05,1)" font-size="16.0" text-anchor="middle" fill="#000" stroke="#000" stroke-width="0.15">NPSH</text>
<text transform="translate(990.5,556.2) scale(1.05,1)" font-size="16.0" text-anchor="middle" fill="#000" stroke="#000" stroke-width="0.15">[m]</text>
<text transform="translate(971.6,692.1) scale(1.05,1)" font-size="16.0" text-anchor="start" fill="#000" stroke="#000" stroke-width="0.15">0</text>
<text transform="translate(971.6,675.5) scale(1.05,1)" font-size="16.0" text-anchor="start" fill="#000" stroke="#000" stroke-width="0.15">1</text>
<text transform="translate(971.6,658.9) scale(1.05,1)" font-size="16.0" text-anchor="start" fill="#000" stroke="#000" stroke-width="0.15">2</text>
<text transform="translate(971.6,642.2) scale(1.05,1)" font-size="16.0" text-anchor="start" fill="#000" stroke="#000" stroke-width="0.15">3</text>
<text transform="translate(971.6,625.6) scale(1.05,1)" font-size="16.0" text-anchor="start" fill="#000" stroke="#000" stroke-width="0.15">4</text>
<text transform="translate(971.6,609.0) scale(1.05,1)" font-size="16.0" text-anchor="start" fill="#000" stroke="#000" stroke-width="0.15">5</text>
<text transform="translate(971.6,592.4) scale(1.05,1)" font-size="16.0" text-anchor="start" fill="#000" stroke="#000" stroke-width="0.15">6</text>
<text x="752.2" y="565.2" font-size="16.0" text-anchor="start" fill="#1d5a96" stroke="#1d5a96" stroke-width="0.15" textLength="194.6" lengthAdjust="spacingAndGlyphs">P1 (motor+freq.converter)</text>
<text x="865.3" y="602.6" font-size="16.0" text-anchor="start" fill="#1d5a96" stroke="#1d5a96" stroke-width="0.15" textLength="20.0" lengthAdjust="spacingAndGlyphs">P2</text>
</g>
</svg>
</body></html>
